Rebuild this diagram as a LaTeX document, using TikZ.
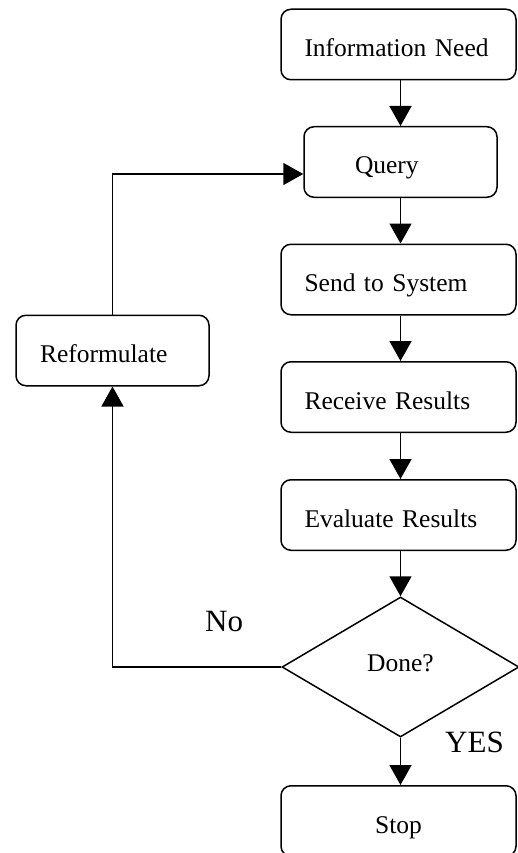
\documentclass[tikz,border=0pt]{standalone}
\usepackage{fontspec}
\setmainfont{Liberation Serif}
\usetikzlibrary{arrows.meta,shapes.geometric}
\begin{document}
\begin{tikzpicture}[x=1pt,y=-1pt,
  every node/.style={font=\fontsize{25.5}{30}\selectfont},
  box/.style={draw,line width=1.5pt,rounded corners=10pt,minimum height=70.5pt,
    text height=30pt,text depth=6pt,align=left,inner ysep=0pt},
  widebox/.style={box,text width=188pt,inner xsep=23.5pt},
  decision/.style={draw,diamond,line width=1.5pt,minimum width=237pt,minimum height=140pt,
    inner sep=0pt,text height=18pt,text depth=8.6pt},
  flow/.style={line width=1.5pt,-{Triangle[length=20pt,width=22pt]}},
  lbl/.style={font=\fontsize{31}{36}\selectfont,inner sep=0pt,anchor=base west}]
\useasboundingbox (0,0) rectangle (517,853);

\node[widebox] (need) at (398.5,44.5) {Information Need};
\node[box,text width=91pt,inner xsep=51pt] (query) at (400.5,162) {Query};
\node[widebox] (send) at (398.5,279.5) {Send to System};
\node[widebox] (recv) at (398.5,397) {Receive Results};
\node[widebox] (eval) at (398.5,515) {Evaluate Results};
\node[decision] (done) at (400.5,667) {Done?};
\node[widebox,align=center] (stop) at (398.5,821) {Stop};
\node[box,text width=145pt,inner xsep=24pt] (reform) at (112.5,350.5) {Reformulate};

\draw[flow] (need.south -| query) -- (query.north);
\draw[flow] (query.south) -- (send.north -| query);
\draw[flow] (send.south -| query) -- (recv.north -| query);
\draw[flow] (recv.south -| query) -- (eval.north -| query);
\draw[flow] (eval.south -| done) -- (done.north);
\draw[flow] (done.south) -- (stop.north -| done);
\draw[flow] (done.west) -| (reform.south);
\draw[flow] (reform.north) |- ([yshift=-12pt]query.west);

\node[lbl] (no) at (205,631.7) {No};
\node[lbl] (yes) at (445,752.5) {YES};
\end{tikzpicture}
\end{document}
